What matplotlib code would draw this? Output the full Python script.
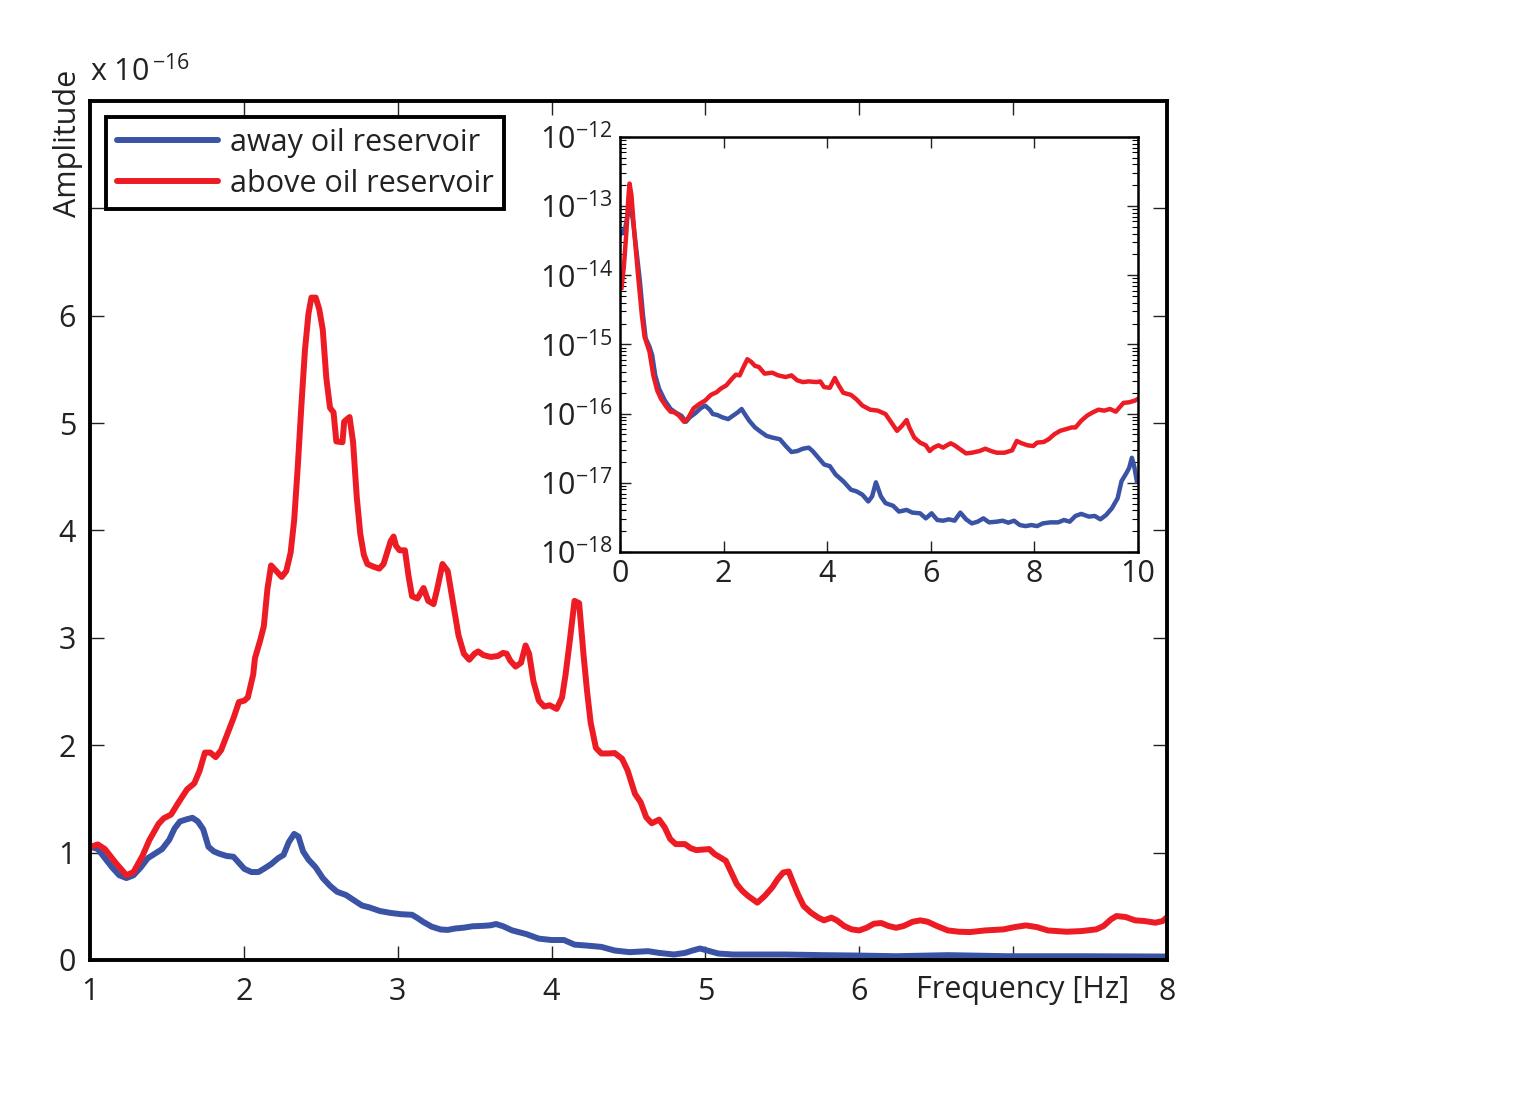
import numpy as np
import matplotlib.pyplot as plt
from matplotlib.ticker import FixedLocator, FuncFormatter, LogLocator, NullFormatter

plt.rcParams['font.family'] = ['Open Sans', 'DejaVu Sans']
plt.rcParams['mathtext.fontset'] = 'custom'
plt.rcParams['mathtext.rm'] = 'Open Sans'
plt.rcParams['mathtext.it'] = 'Open Sans'

BLUE = '#3a53a4'
RED = '#ed1c24'
TXT = '#222222'

# main plot, amplitude in units of 1e-16
red_f = [1.005, 1.051, 1.097, 1.167, 1.237, 1.283, 1.341, 1.387, 1.446, 1.480, 1.527, 1.573,
         1.631, 1.678, 1.712, 1.747, 1.782, 1.817, 1.852, 1.898, 1.933, 1.968, 2.003, 2.026,
         2.061, 2.072, 2.107, 2.130, 2.153, 2.177, 2.211, 2.246, 2.276, 2.304, 2.327, 2.351,
         2.374, 2.397, 2.420, 2.439, 2.467, 2.490, 2.513, 2.536, 2.560, 2.583, 2.601, 2.641,
         2.652, 2.687, 2.710, 2.734, 2.757, 2.780, 2.803, 2.838, 2.880, 2.908, 2.931, 2.954,
         2.973, 2.989, 3.012, 3.047, 3.070, 3.093, 3.128, 3.168, 3.198, 3.233, 3.256, 3.291,
         3.325, 3.360, 3.395, 3.430, 3.465, 3.499, 3.523, 3.557, 3.604, 3.650, 3.685, 3.708,
         3.731, 3.766, 3.801, 3.831, 3.854, 3.882, 3.917, 3.952, 3.987, 4.033, 4.068, 4.091,
         4.119, 4.149, 4.179, 4.207, 4.230, 4.254, 4.288, 4.323, 4.370, 4.410, 4.458, 4.494,
         4.518, 4.542, 4.579, 4.615, 4.651, 4.699, 4.735, 4.771, 4.807, 4.867, 4.903, 4.940,
         5.024, 5.060, 5.096, 5.132, 5.168, 5.204, 5.240, 5.277, 5.337, 5.385, 5.433, 5.469,
         5.505, 5.541, 5.565, 5.601, 5.638, 5.686, 5.734, 5.770, 5.818, 5.854, 5.902, 5.950,
         5.999, 6.047, 6.095, 6.143, 6.191, 6.239, 6.287, 6.347, 6.396, 6.444, 6.504, 6.576,
         6.648, 6.720, 6.817, 6.937, 7.009, 7.082, 7.154, 7.226, 7.346, 7.443, 7.539, 7.587,
         7.635, 7.671, 7.731, 7.792, 7.852, 7.924, 7.972, 7.996]
red_a = [1.054, 1.076, 1.033, 0.905, 0.789, 0.819, 0.969, 1.119, 1.268, 1.320, 1.354, 1.461,
         1.589, 1.645, 1.760, 1.931, 1.931, 1.889, 1.953, 2.124, 2.253, 2.402, 2.415, 2.445,
         2.659, 2.809, 2.980, 3.109, 3.451, 3.674, 3.622, 3.567, 3.622, 3.793, 4.093, 4.606,
         5.163, 5.676, 6.019, 6.168, 6.168, 6.061, 5.869, 5.420, 5.142, 5.099, 4.829, 4.821,
         5.013, 5.056, 4.821, 4.307, 3.965, 3.772, 3.687, 3.665, 3.644, 3.687, 3.793, 3.900,
         3.943, 3.857, 3.815, 3.815, 3.579, 3.387, 3.366, 3.464, 3.344, 3.314, 3.451, 3.687,
         3.622, 3.323, 3.023, 2.852, 2.796, 2.852, 2.873, 2.839, 2.822, 2.830, 2.860, 2.852,
         2.788, 2.732, 2.767, 2.929, 2.852, 2.595, 2.415, 2.360, 2.372, 2.338, 2.445, 2.659,
         2.980, 3.344, 3.323, 2.852, 2.510, 2.210, 1.975, 1.923, 1.923, 1.927, 1.874, 1.765,
         1.656, 1.547, 1.469, 1.329, 1.273, 1.307, 1.235, 1.126, 1.079, 1.079, 1.042, 1.023,
         1.033, 0.986, 0.955, 0.924, 0.814, 0.705, 0.643, 0.596, 0.534, 0.596, 0.674, 0.752,
         0.814, 0.824, 0.737, 0.612, 0.503, 0.440, 0.394, 0.369, 0.394, 0.369, 0.316, 0.285,
         0.275, 0.300, 0.338, 0.344, 0.316, 0.300, 0.316, 0.356, 0.369, 0.356, 0.316, 0.275,
         0.263, 0.260, 0.275, 0.285, 0.306, 0.322, 0.306, 0.275, 0.263, 0.269, 0.285, 0.316,
         0.378, 0.409, 0.400, 0.369, 0.363, 0.347, 0.363, 0.394]

blue_f = [1.005, 1.051, 1.097, 1.144, 1.190, 1.237, 1.283, 1.330, 1.376, 1.422, 1.469, 1.515,
          1.550, 1.585, 1.631, 1.666, 1.701, 1.736, 1.770, 1.805, 1.840, 1.887, 1.933, 1.968,
          2.003, 2.049, 2.095, 2.130, 2.177, 2.223, 2.258, 2.292, 2.327, 2.355, 2.385, 2.420,
          2.467, 2.513, 2.560, 2.606, 2.664, 2.722, 2.768, 2.815, 2.884, 2.954, 3.024, 3.093,
          3.128, 3.163, 3.221, 3.279, 3.325, 3.372, 3.430, 3.488, 3.557, 3.604, 3.639, 3.685,
          3.743, 3.836, 3.917, 3.998, 4.080, 4.149, 4.230, 4.323, 4.410, 4.506, 4.627, 4.699,
          4.795, 4.867, 4.916, 4.964, 5.012, 5.084, 5.180, 5.325, 5.517, 5.758, 5.999, 6.239,
          6.576, 6.961, 7.443, 7.996]
blue_a = [1.054, 1.033, 0.948, 0.862, 0.789, 0.763, 0.789, 0.862, 0.948, 0.990, 1.033, 1.119,
          1.225, 1.290, 1.311, 1.324, 1.290, 1.217, 1.054, 1.011, 0.990, 0.969, 0.961, 0.905,
          0.849, 0.819, 0.819, 0.849, 0.892, 0.948, 0.978, 1.097, 1.174, 1.149, 1.011, 0.935,
          0.862, 0.763, 0.691, 0.635, 0.605, 0.550, 0.507, 0.490, 0.456, 0.438, 0.426, 0.421,
          0.391, 0.357, 0.310, 0.284, 0.280, 0.293, 0.301, 0.314, 0.318, 0.323, 0.335, 0.314,
          0.276, 0.241, 0.199, 0.186, 0.186, 0.143, 0.134, 0.122, 0.088, 0.073, 0.082, 0.066,
          0.051, 0.066, 0.088, 0.107, 0.088, 0.060, 0.051, 0.051, 0.051, 0.045, 0.041, 0.035,
          0.045, 0.035, 0.035, 0.032]

# inset, log10 of amplitude
in_red_f = [0.030, 0.074, 0.126, 0.163, 0.185, 0.222, 0.274, 0.348, 0.422, 0.474, 0.570, 0.644,
            0.719, 0.793, 0.904, 0.978, 1.052, 1.141, 1.237, 1.311, 1.422, 1.533, 1.644, 1.756,
            1.867, 1.941, 2.052, 2.163, 2.237, 2.311, 2.370, 2.459, 2.533, 2.607, 2.681, 2.793,
            2.941, 3.052, 3.200, 3.311, 3.422, 3.533, 3.644, 3.793, 3.867, 3.941, 4.052, 4.148,
            4.222, 4.311, 4.459, 4.570, 4.681, 4.830, 4.978, 5.126, 5.237, 5.348, 5.444, 5.533,
            5.585, 5.681, 5.793, 5.904, 5.978, 6.052, 6.148, 6.237, 6.311, 6.385, 6.459, 6.570,
            6.681, 6.793, 6.941, 7.052, 7.163, 7.274, 7.422, 7.570, 7.659, 7.756, 7.867, 7.978,
            8.052, 8.178, 8.274, 8.385, 8.496, 8.607, 8.719, 8.793, 8.904, 9.015, 9.126, 9.237,
            9.348, 9.459, 9.570, 9.644, 9.719, 9.830, 9.941, 10.000]
in_red_log = [-14.182, -13.890, -13.355, -12.869, -12.674, -12.844, -13.355, -13.987, -14.571,
              -14.887, -15.106, -15.447, -15.665, -15.787, -15.909, -15.972, -15.982, -16.030,
              -16.118, -16.069, -15.923, -15.860, -15.811, -15.729, -15.690, -15.641, -15.592,
              -15.495, -15.437, -15.447, -15.349, -15.213, -15.252, -15.310, -15.325, -15.422,
              -15.408, -15.447, -15.471, -15.447, -15.519, -15.544, -15.534, -15.544, -15.534,
              -15.617, -15.626, -15.485, -15.592, -15.699, -15.729, -15.797, -15.884, -15.943,
              -15.957, -16.006, -16.127, -16.249, -16.176, -16.093, -16.200, -16.346, -16.419,
              -16.458, -16.541, -16.492, -16.458, -16.492, -16.458, -16.429, -16.458, -16.517,
              -16.575, -16.565, -16.541, -16.507, -16.541, -16.565, -16.565, -16.531, -16.395,
              -16.429, -16.458, -16.468, -16.419, -16.410, -16.371, -16.298, -16.249, -16.225,
              -16.200, -16.200, -16.103, -16.030, -15.982, -15.943, -15.957, -15.933, -15.972,
              -15.909, -15.845, -15.836, -15.811, -15.787]

in_blue_f = [0.015, 0.052, 0.104, 0.163, 0.200, 0.252, 0.311, 0.385, 0.444, 0.496, 0.570, 0.622,
             0.681, 0.756, 0.867, 0.978, 1.089, 1.185, 1.274, 1.348, 1.459, 1.556, 1.644, 1.733,
             1.793, 1.881, 1.978, 2.089, 2.200, 2.274, 2.348, 2.422, 2.496, 2.607, 2.719, 2.830,
             2.941, 3.089, 3.200, 3.311, 3.422, 3.533, 3.644, 3.719, 3.830, 3.941, 4.052, 4.163,
             4.311, 4.459, 4.570, 4.681, 4.793, 4.867, 4.941, 5.037, 5.126, 5.274, 5.385, 5.533,
             5.644, 5.793, 5.904, 6.015, 6.126, 6.237, 6.348, 6.459, 6.570, 6.681, 6.793, 6.904,
             7.015, 7.126, 7.274, 7.385, 7.496, 7.607, 7.719, 7.830, 7.941, 8.052, 8.163, 8.311,
             8.459, 8.570, 8.681, 8.793, 8.904, 9.052, 9.163, 9.274, 9.385, 9.496, 9.607, 9.681,
             9.778, 9.830, 9.881, 9.926, 9.978]
in_blue_log = [-13.404, -13.379, -13.306, -13.063, -13.015, -13.209, -13.598, -14.085, -14.571,
               -14.911, -15.033, -15.155, -15.447, -15.641, -15.811, -15.933, -15.991, -16.030,
               -16.118, -16.054, -15.991, -15.923, -15.884, -15.943, -16.006, -16.020, -16.054,
               -16.079, -16.020, -15.982, -15.933, -16.020, -16.103, -16.200, -16.264, -16.322,
               -16.346, -16.371, -16.468, -16.555, -16.541, -16.507, -16.492, -16.541, -16.638,
               -16.735, -16.760, -16.881, -16.978, -17.100, -17.125, -17.173, -17.270, -17.197,
               -16.993, -17.197, -17.294, -17.333, -17.416, -17.392, -17.431, -17.441, -17.514,
               -17.441, -17.538, -17.548, -17.528, -17.548, -17.431, -17.528, -17.587, -17.562,
               -17.514, -17.572, -17.562, -17.548, -17.577, -17.548, -17.611, -17.626, -17.611,
               -17.626, -17.587, -17.572, -17.572, -17.538, -17.562, -17.479, -17.450, -17.489,
               -17.479, -17.528, -17.465, -17.368, -17.222, -16.978, -16.857, -16.784, -16.638,
               -16.760, -16.978]

inset_decades = [-18, -17, -16, -15, -14, -13, -12]

fig = plt.figure(figsize=(15.3, 10.93), dpi=100)

ax = fig.add_axes([0.0588, 0.1217, 0.704, 0.786])
ax.plot(blue_f, blue_a, color=BLUE, lw=4.3, label='away oil reservoir',
        solid_joinstyle='round', solid_capstyle='round')
ax.plot(red_f, red_a, color=RED, lw=4.3, label='above oil reservoir',
        solid_joinstyle='round', solid_capstyle='round')
ax.set_xlim(1, 8)
ax.set_ylim(0, 8)
ax.xaxis.set_major_locator(FixedLocator([1, 2, 3, 4, 5, 6, 7, 8]))
ax.set_xticklabels(['1', '2', '3', '4', '5', '6', '', '8'])
ax.yaxis.set_major_locator(FixedLocator([0, 1, 2, 3, 4, 5, 6, 7, 8]))
ax.set_yticklabels(['0', '1', '2', '3', '4', '5', '6', '', ''])
ax.tick_params(direction='in', length=10, width=1, top=True, right=True,
               labelsize=22, colors=TXT, pad=12)
ax.tick_params(axis='y', pad=10)
for s in ax.spines.values():
    s.set_linewidth(2.8)
ax.text(7.06, -0.28, 'Frequency [Hz]', ha='center', va='center', fontsize=22, color=TXT)
ax.text(-0.020, 0.95, 'Amplitude', rotation=90, ha='center', va='center',
        transform=ax.transAxes, fontsize=22, color=TXT)
ax.text(0.0, 1.015, r'x 10$^{\,\mathregular{-16}}$', transform=ax.transAxes, ha='left',
        va='bottom', fontsize=22, color=TXT)

leg = ax.legend(loc='upper left', bbox_to_anchor=(0.0149, 0.981), borderaxespad=0,
                fontsize=22, handlelength=3.3, handletextpad=0.4, labelspacing=0.35,
                borderpad=0.35, fancybox=False, framealpha=1)
leg.get_frame().set_edgecolor('black')
leg.get_frame().set_linewidth(2.8)
for t in leg.get_texts():
    t.set_color(TXT)

# inset
ins = fig.add_axes([0.4052, 0.495, 0.3386, 0.3797])
ins.plot(in_blue_f, 10.0 ** np.array(in_blue_log), color=BLUE, lw=3.2, solid_joinstyle='round')
ins.plot(in_red_f, 10.0 ** np.array(in_red_log), color=RED, lw=3.2, solid_joinstyle='round')
ins.set_yscale('log')
ins.set_xlim(0, 10)
ins.set_ylim(1e-18, 1e-12)
ins.set_xticks([0, 2, 4, 6, 8, 10])
ins.yaxis.set_major_locator(FixedLocator([10.0 ** d for d in inset_decades]))
ins.yaxis.set_minor_locator(LogLocator(base=10, subs=np.arange(2, 10), numticks=20))
ins.yaxis.set_minor_formatter(NullFormatter())
ins.yaxis.set_major_formatter(FuncFormatter(
    lambda v, p: r'10$^{\mathregular{%d}}$' % round(np.log10(v))))
ins.tick_params(which='major', direction='in', length=8, width=1, top=True, right=True,
                labelsize=22, colors=TXT, pad=5)
ins.tick_params(which='minor', direction='in', length=4, width=0.8, right=True, left=True)
for s in ins.spines.values():
    s.set_linewidth(1.8)

fig.savefig('out.png', dpi=100)
